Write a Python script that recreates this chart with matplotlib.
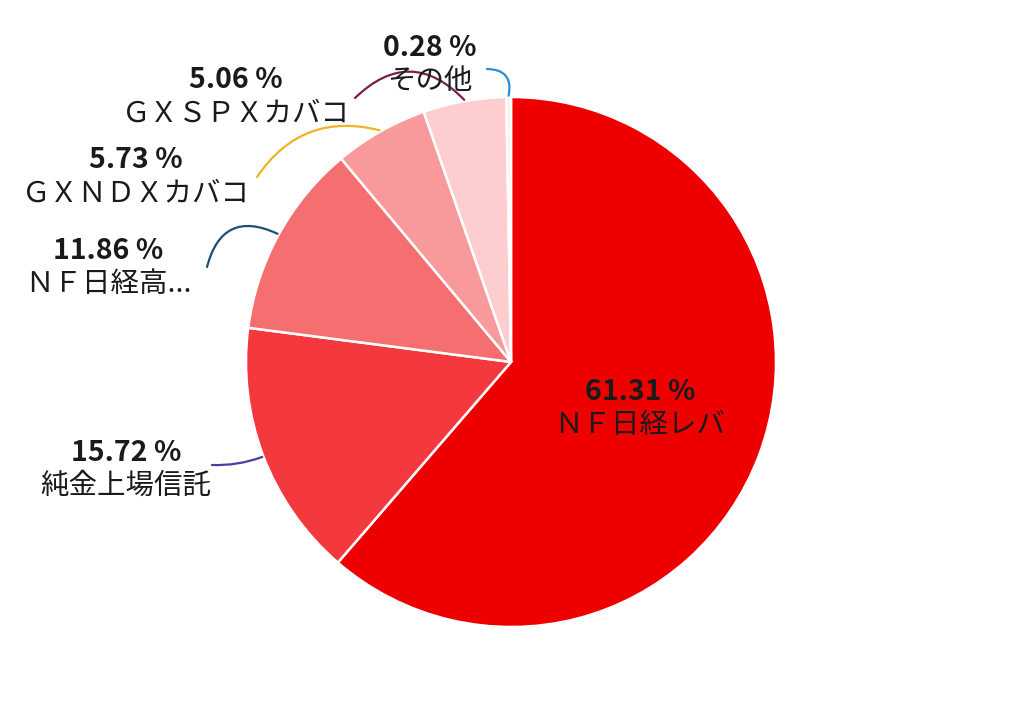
import numpy as np
import matplotlib
matplotlib.use("Agg")
import matplotlib.pyplot as plt

plt.rcParams["font.family"] = ["Noto Sans CJK JP", "DejaVu Sans"]

# data
names = ["ＮＦ日経レバ", "純金上場信託", "ＮＦ日経高...", "ＧＸＮＤＸカバコ", "ＧＸＳＰＸカバコ", "その他"]
shares = [61.31, 15.72, 11.86, 5.73, 5.06, 0.28]

# styles
colors = ["#ee0000", "#f4393e", "#f56e70", "#f89a9c", "#fdcdd0", "#f4f0f0"]
line_colors = [None, "#4a3fa0", "#1f4e6e", "#f0b323", "#7b1e4f", "#2b8cd6"]

# layout in pixels (label centre of the % line, end of connector, curvature)
CX, CY, R = 511, 362, 265
label_px = [(640, 392), (126, 453), (108, 251), (136, 160), (236, 80), (430, 48)]
line_end_px = [None, (212, 465), (207, 267), (257, 177), (355, 98), (487, 69)]
rads = [0, 0.1, -0.6, -0.35, -0.5, -0.6]


def px(p):
    return ((p[0] - CX) / R, (CY - p[1]) / R)


fig = plt.figure(figsize=(10.24, 7.19), dpi=100)
ax = fig.add_axes([0, 0, 1, 1])

wedges, _ = ax.pie(
    shares,
    colors=colors,
    startangle=90,
    counterclock=False,
    radius=1,
    wedgeprops=dict(edgecolor="white", linewidth=1.8),
)
ax.set_xlim(-CX / R, (1024 - CX) / R)
ax.set_ylim(-(719 - CY) / R, CY / R)
ax.set_aspect("equal")
ax.axis("off")

for i, w in enumerate(wedges):
    x, y = px(label_px[i])
    ax.text(x, y, f"{shares[i]:.2f} %", ha="center", va="center",
            fontsize=20.5, fontweight="bold", color="#1a1a1a")
    ax.text(x, y - 33 / R, names[i], ha="center", va="center",
            fontsize=20.5, color="#1a1a1a")
    if line_colors[i] is None:
        continue
    mid = np.deg2rad((w.theta1 + w.theta2) / 2)
    anchor = (1.005 * np.cos(mid), 1.005 * np.sin(mid))
    ax.annotate(
        "",
        xy=anchor,
        xytext=px(line_end_px[i]),
        arrowprops=dict(arrowstyle="-", color=line_colors[i], lw=1.6,
                        connectionstyle=f"arc3,rad={rads[i]}",
                        shrinkA=0, shrinkB=0),
    )

fig.savefig("out.png", dpi=100)
